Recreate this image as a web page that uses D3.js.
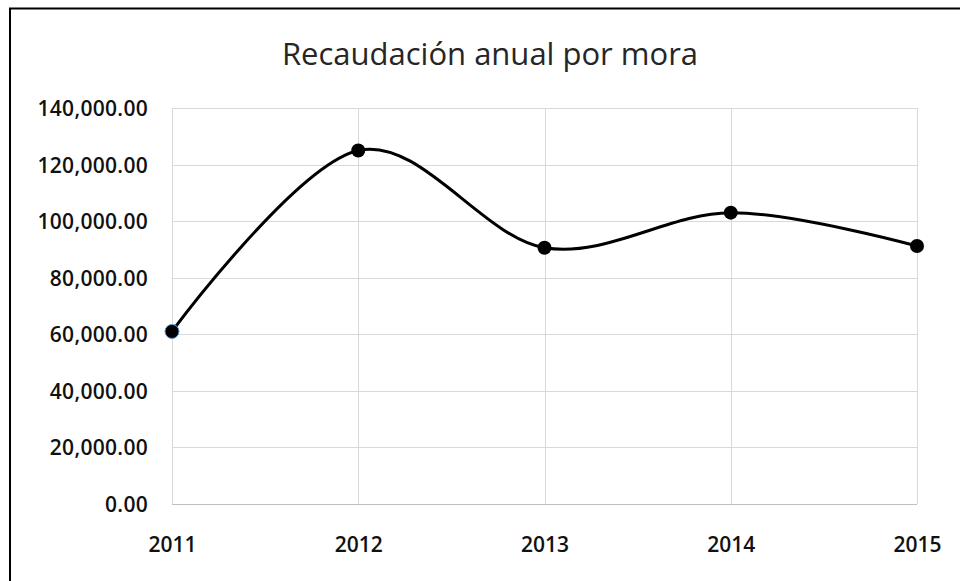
<!DOCTYPE html>
<html>
<head>
<meta charset="utf-8">
<script src="https://cdn.jsdelivr.net/npm/d3@7"></script>
<style>
  html, body { margin: 0; padding: 0; background: #fff; }
  svg { display: block; }
</style>
</head>
<body>
<svg></svg>
<script>
// data
let years  = ['2011', '2012', '2013', '2014', '2015'];
let values = [61000, 125000, 90600, 103000, 91200];
let yTicks = [0, 20000, 40000, 60000, 80000, 100000, 120000, 140000];
let title  = 'Recaudación anual por mora';

let width   = 960,
    height  = 581,
    padL    = 172,
    padR    = 917,
    padTop  = 108,
    padBot  = 504;

let svg = d3.select('svg')
            .attr('width', width)
            .attr('height', height);

// outer frame (right and bottom edges fall outside the window)
svg.append('rect')
    .attr('x', 10)
    .attr('y', 8.5)
    .attr('width', 1000)
    .attr('height', 700)
    .attr('fill', 'none')
    .attr('stroke', '#000')
    .attr('stroke-width', 2);

let xScale = d3.scalePoint()
               .domain(years)
               .range([padL, padR]);

let yScale = d3.scaleLinear()
               .domain([0, 140000])
               .range([padBot, padTop]);

let fmt = d3.format(',.2f');

// grid
let yAxis = d3.axisLeft(yScale)
              .tickValues(yTicks)
              .tickSize(padR - padL)
              .tickFormat(fmt);

let gy = svg.append('g')
    .attr('transform', `translate(${padR}, 0)`)
    .call(yAxis);
gy.select('.domain').remove();
gy.selectAll('.tick line').attr('stroke', '#d9d9d9').attr('shape-rendering', 'crispEdges');
gy.selectAll('.tick text')
    .attr('x', 148 - padR)
    .attr('dy', '0.36em')
    .attr('fill', '#111')
    .style('font-family', '"Open Sans", sans-serif')
    .style('font-weight', 600)
    .style('font-size', '21px')
    .style('letter-spacing', '0.3px');

let xAxis = d3.axisBottom(xScale)
              .tickSize(padTop - padBot)
              .tickSizeOuter(0);

let gx = svg.append('g')
    .attr('transform', `translate(0, ${padBot})`)
    .call(xAxis);
gx.select('.domain').remove();
gx.selectAll('.tick line').attr('stroke', '#d9d9d9').attr('shape-rendering', 'crispEdges');
gx.selectAll('.tick text')
    .attr('y', 0)
    .attr('dy', 48)
    .attr('fill', '#111')
    .style('font-family', '"Open Sans", sans-serif')
    .style('font-weight', 600)
    .style('font-size', '21px');

// plot box bottom edge
svg.append('line')
    .attr('x1', padL).attr('x2', padR)
    .attr('y1', padBot).attr('y2', padBot)
    .attr('stroke', '#bfbfbf')
    .attr('shape-rendering', 'crispEdges');

// line
let line = d3.line()
             .x((d, i) => xScale(years[i]))
             .y(d => yScale(d))
             .curve(d3.curveCardinal.tension(0));

svg.append('path')
    .datum(values)
    .attr('d', line)
    .attr('fill', 'none')
    .attr('stroke', '#000')
    .attr('stroke-width', 3);

// markers
svg.selectAll('circle')
    .data(values)
    .enter()
    .append('circle')
        .attr('cx', (d, i) => xScale(years[i]))
        .attr('cy', d => yScale(d))
        .attr('r', 7)
        .attr('fill', '#000')
        .attr('stroke', (d, i) => i === 0 ? '#5b9bd5' : 'none')
        .attr('stroke-width', 1);

// title
svg.append('text')
    .attr('x', 490)
    .attr('y', 65)
    .attr('text-anchor', 'middle')
    .attr('fill', '#262626')
    .style('font-family', '"Open Sans", sans-serif')
    .style('font-size', '31px')
    .text(title);
</script>
</body>
</html>
